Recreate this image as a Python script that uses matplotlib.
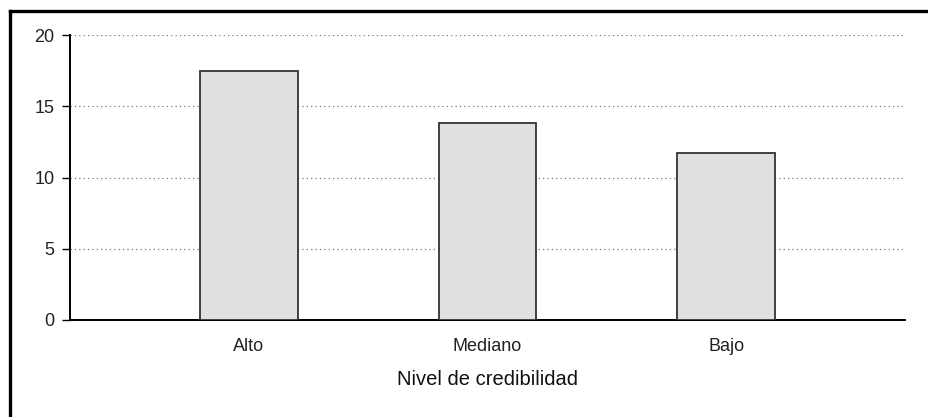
import matplotlib.pyplot as plt
from matplotlib.lines import Line2D

# data
categories = ["Alto", "Mediano", "Bajo"]
values = [17.5, 13.85, 11.75]
yticks = [0, 5, 10, 15, 20]

plt.rcParams['font.family'] = ['Liberation Sans', 'DejaVu Sans']

W, H = 929, 417
fig = plt.figure(figsize=(W / 100, H / 100), dpi=100)
ax = fig.add_axes([70 / W, 1 - 320 / H, (905 - 70) / W, (320 - 35) / H])

x = range(len(categories))
ax.bar(x, values, width=0.41, color='#e0e0e0', edgecolor='#333333',
       linewidth=1.3, zorder=3)

ax.set_xlim(-0.75, 2.75)
ax.set_ylim(0, 20)
ax.set_yticks(yticks)
ax.set_xticks(list(x))
ax.set_xticklabels(categories)
ax.tick_params(axis='x', length=0, pad=13, labelsize=13, labelcolor='#222222')
ax.tick_params(axis='y', length=6, width=1, pad=5, labelsize=13, labelcolor='#222222')
ax.yaxis.grid(True, linestyle=(0, (1, 2.5)), color='#777777', linewidth=0.9, zorder=0)
ax.set_axisbelow(True)

for s in ['top', 'right']:
    ax.spines[s].set_visible(False)
ax.spines['left'].set_linewidth(1.4)
ax.spines['bottom'].set_linewidth(1.4)

ax.set_xlabel("Nivel de credibilidad", fontsize=14.5, labelpad=11, color='#111111')

# outer frame (top and left, cut off at right/bottom)
fig.add_artist(Line2D([10.5 / W, 10.5 / W], [0, 1 - 10.5 / H], color='black',
                      linewidth=2.4, transform=fig.transFigure))
fig.add_artist(Line2D([10.5 / W, 1], [1 - 10.5 / H, 1 - 10.5 / H], color='black',
                      linewidth=2.4, transform=fig.transFigure))

fig.savefig("out.png", dpi=100)
